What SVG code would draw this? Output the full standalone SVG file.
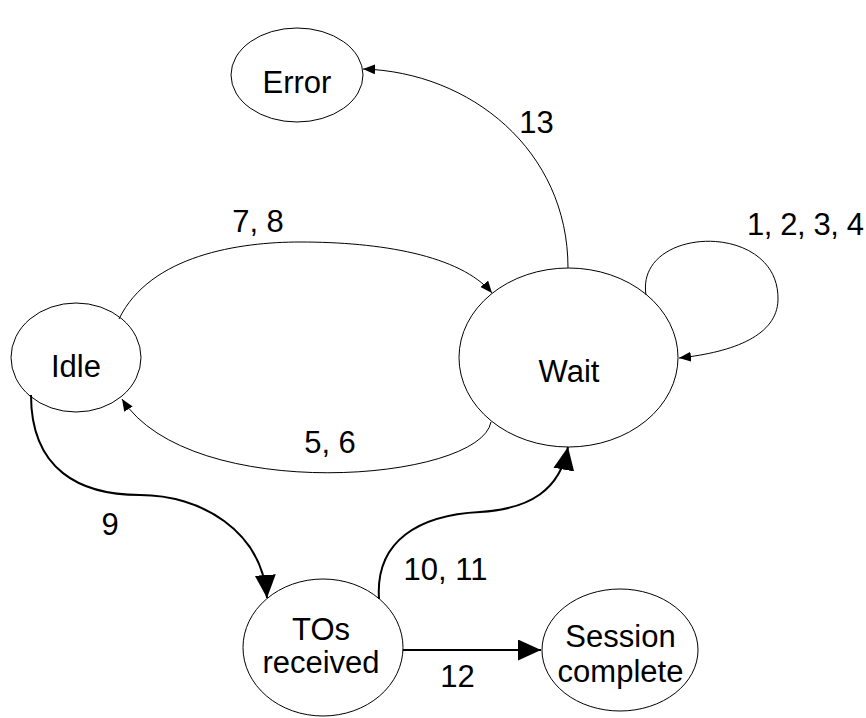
<svg xmlns="http://www.w3.org/2000/svg" width="866" height="718" viewBox="0 0 866 718">
<style>
.node ellipse{fill:#fff;stroke:#000;stroke-width:1}
text{font-family:"Liberation Sans",Arial,sans-serif;font-size:31px;fill:#000;text-anchor:middle}
.thin{fill:none;stroke:#000;stroke-width:1}
.thick{fill:none;stroke:#000;stroke-width:2}
</style>
<defs>
<marker id="ah" markerUnits="userSpaceOnUse" markerWidth="13" markerHeight="11" refX="12" refY="5" orient="auto"><path d="M0,0 L12,5 L0,10 z" fill="#000"/></marker>
<marker id="AH" markerUnits="userSpaceOnUse" markerWidth="25" markerHeight="22" refX="23" refY="10.5" orient="auto"><path d="M0,0 L23,10.5 L0,21 z" fill="#000"/></marker>
</defs>
<rect width="866" height="718" fill="#fff"/>
<g id="node-error" class="node"><ellipse cx="297" cy="75" rx="66" ry="47"/><text x="297" y="93">Error</text></g>
<g id="node-wait" class="node"><ellipse cx="568.5" cy="357.5" rx="109.5" ry="89.5"/><text x="569" y="382">Wait</text></g>
<g id="node-idle" class="node"><ellipse cx="76" cy="357.5" rx="65" ry="54.5"/><text x="76" y="377">Idle</text></g>
<g id="node-tos" class="node"><ellipse cx="323" cy="647.5" rx="80" ry="68.5"/><text x="321" y="640">TOs</text><text x="321" y="673">received</text></g>
<g id="node-session" class="node"><ellipse cx="620" cy="650" rx="78" ry="61"/><text x="620.5" y="647">Session</text><text x="620.5" y="682">complete</text></g>
<g id="connectors">
<path class="thin" d="M568,268 C568,150 470,72 363,69" marker-end="url(#ah)"/>
<path class="thin" d="M119,319 C150,255 240,242 300,242 C380,242 460,255 492,293" marker-end="url(#ah)"/>
<path class="thin" d="M491,422 C480,482 190,505 122,399" marker-end="url(#ah)"/>
<path class="thin" d="M646,295 C635,225 780,220 778,300 C777,335 735,352 679,358" marker-end="url(#ah)"/>
<path class="thick" d="M31,395 C31,470 80,495 140,495 C200,495 262,530 267,598" marker-end="url(#AH)"/>
<path class="thick" d="M379,599 C375,540 420,515 480,512 C530,509 560,490 568,447" marker-end="url(#AH)"/>
<path class="thick" d="M403,650 L541,650" marker-end="url(#AH)"/>
<text x="536.5" y="133">13</text>
<text x="258" y="232">7, 8</text>
<text x="805.5" y="235" textLength="117" lengthAdjust="spacing">1, 2, 3, 4</text>
<text x="330" y="453">5, 6</text>
<text x="110" y="535">9</text>
<text x="445.5" y="580">10, 11</text>
<text x="457.5" y="687">12</text>
</g>
</svg>
